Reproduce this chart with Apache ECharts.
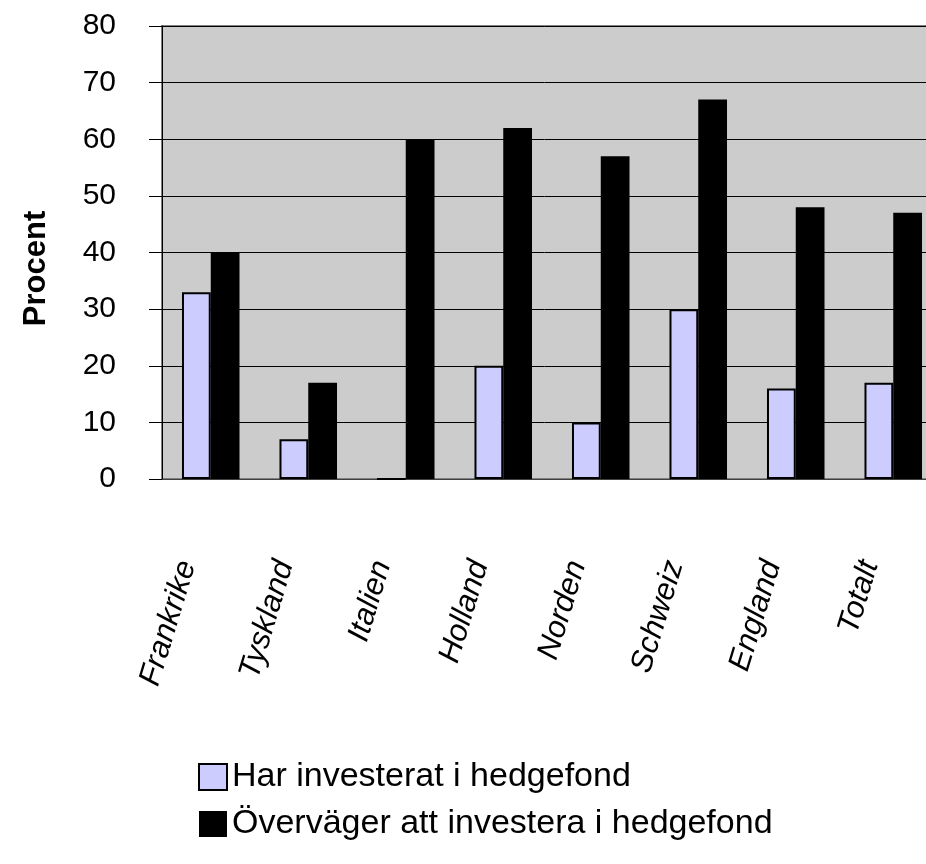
<!DOCTYPE html>
<html>
<head>
<meta charset="utf-8">
<title>Hedgefond</title>
<script src="https://cdn.jsdelivr.net/npm/echarts@6/dist/echarts.min.js"></script>
<style>
    html, body { margin: 0; padding: 0; background: #fff; }
    #chart { width: 926px; height: 864px; }
</style>
</head>
<body>
<div id="chart"></div>
<script>
'use strict';

// kategorier och värden (procent)
var lander = ['Frankrike', 'Tyskland', 'Italien', 'Holland', 'Norden', 'Schweiz', 'England', 'Totalt'];
var harInvesterat = [33, 7, 0, 20, 10, 30, 16, 17];
var overvager = [40, 17, 60, 62, 57, 67, 48, 47];
var serieNamn = ['Har investerat i hedgefond', 'Överväger att investera i hedgefond'];

var font = 'Liberation Sans, Arial, sans-serif';

var myChart = echarts.init(document.getElementById('chart'));

var option = {
    backgroundColor: '#fff',
    animation: false,
    grid: {
        left: 162,
        top: 26,
        right: -16,
        bottom: 385,
        show: true,
        backgroundColor: '#cccccc',
        borderColor: '#808080',
        borderWidth: 2,
        outerBoundsMode: 'none'
    },
    legend: {
        orient: 'vertical',
        left: 193,
        top: 754,
        itemWidth: 28,
        itemHeight: 26,
        itemGap: 11,
        icon: 'rect',
        textStyle: {
            fontFamily: font,
            fontSize: 34,
            lineHeight: 36,
            color: '#000'
        },
        data: serieNamn
    },
    xAxis: {
        type: 'category',
        data: lander,
        axisLine: {lineStyle: {color: '#404040', width: 1}},
        axisTick: {length: 13, lineStyle: {color: '#000'}},
        axisLabel: {
            rotate: 73,
            interval: 0,
            margin: 6,
            padding: [0, 80, 13, 0],
            fontFamily: font,
            fontStyle: 'italic',
            fontSize: 31,
            color: '#000'
        }
    },
    yAxis: {
        type: 'value',
        min: 0,
        max: 80,
        interval: 10,
        name: 'Procent',
        nameLocation: 'middle',
        nameRotate: 90,
        nameGap: 110,
        nameTextStyle: {
            fontFamily: font,
            fontWeight: 'bold',
            fontSize: 31,
            color: '#000',
            padding: [0, 32, 0, 0]
        },
        axisLine: {show: true, lineStyle: {color: '#000', width: 1}},
        axisTick: {show: true, length: 13, lineStyle: {color: '#000'}},
        axisLabel: {
            margin: 46,
            fontFamily: font,
            fontSize: 30,
            color: '#000'
        },
        splitLine: {lineStyle: {color: '#000', width: 1}}
    },
    series: [
        {
            name: serieNamn[0],
            type: 'bar',
            data: harInvesterat,
            barGap: '0%',
            barCategoryGap: '41%',
            itemStyle: {color: '#ccccff', borderColor: '#000', borderWidth: 2}
        },
        {
            name: serieNamn[1],
            type: 'bar',
            data: overvager,
            barGap: '0%',
            barCategoryGap: '41%',
            itemStyle: {color: '#000', borderColor: '#000', borderWidth: 0}
        }
    ]
};

myChart.setOption(option);
</script>
</body>
</html>
